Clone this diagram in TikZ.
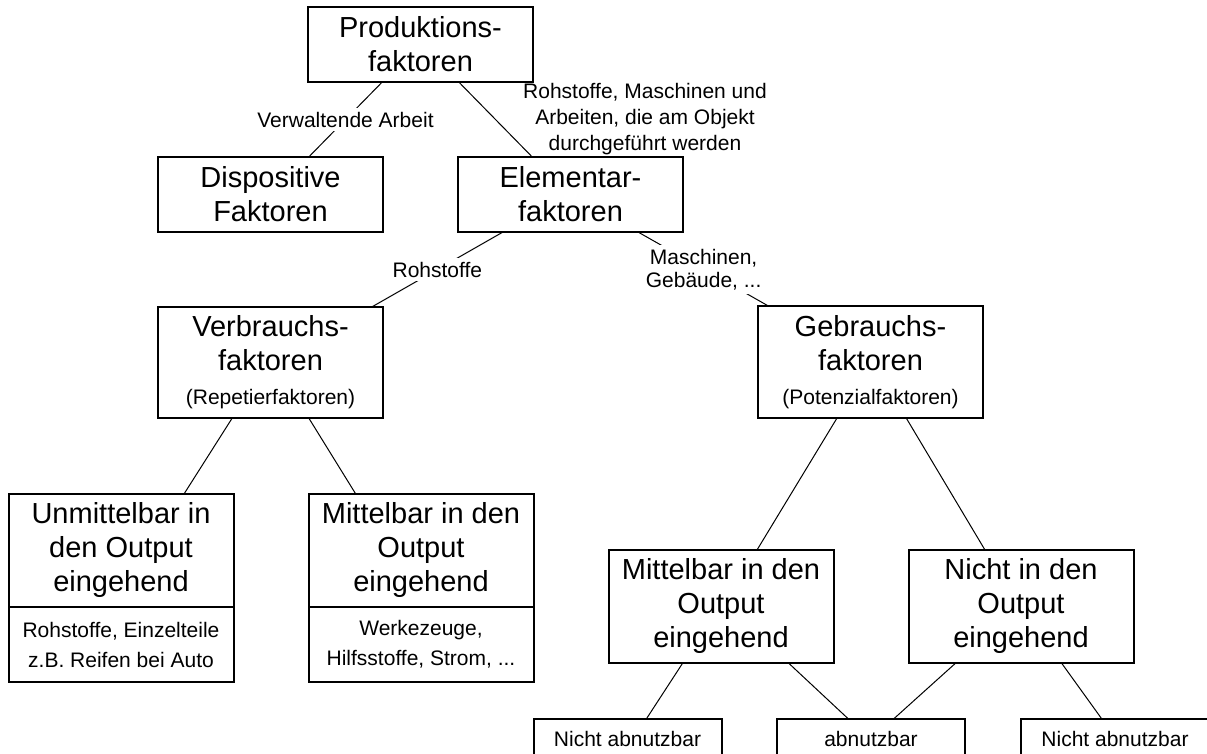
\documentclass[tikz,border=0pt]{standalone}
\usepackage{fontspec}
\setmainfont{Liberation Sans}
\usepackage{tikz}
\usetikzlibrary{positioning,calc}

\newcommand{\bigfont}{\fontsize{14.5}{17}\selectfont}
\newcommand{\smallfont}{\fontsize{10.5}{13}\selectfont}

\begin{document}
\begin{tikzpicture}[x=0.5pt, y=-0.5pt,
    faktor/.style={rectangle, draw=black, line width=1pt, minimum width=112.5pt,
        minimum height=37.5pt, inner sep=0pt, outer sep=0pt, align=center, font=\bigfont},
    detail/.style={rectangle, draw=black, line width=1pt, minimum width=112.5pt,
        minimum height=37.5pt, inner sep=0pt, outer sep=0pt, align=center,
        font=\fontsize{10.5}{15}\selectfont},
    endbox/.style={rectangle, draw=black, line width=1pt, minimum width=94pt,
        minimum height=20pt, inner sep=0pt, outer sep=0pt, font=\smallfont},
    link/.style={draw=black, line width=0.5pt},
    linklabel/.style={fill=white, inner sep=2pt, align=center, font=\smallfont}
]
    \useasboundingbox (0,0) rectangle (1207,754);

    % top levels
    \node[faktor] (prod) at (420.5,44.5) {Produktions-\\faktoren};
    \node[faktor] (disp) at (270.5,194.5) {Dispositive\\Faktoren};
    \node[faktor] (elem) at (570.5,194.5) {Elementar-\\faktoren};
    \node[faktor, minimum height=55.5pt] (verb) at (270.5,362.5)
        {Verbrauchs-\\faktoren\\{\smallfont(Repetierfaktoren)}};
    \node[faktor, minimum height=56pt] (gebr) at (870.5,362.5)
        {Gebrauchs-\\faktoren\\{\smallfont(Potenzialfaktoren)}};

    % Verbrauchsfaktoren: boxes with an example part below
    \node[faktor, minimum height=56.5pt] (unm) at (121,550.5) {Unmittelbar in\\den Output\\eingehend};
    \node[detail, below=0pt of unm] (unmx) {Rohstoffe, Einzelteile\\z.B. Reifen bei Auto};
    \node[faktor, minimum height=56.5pt] (mitl) at (421,550.5) {Mittelbar in den\\Output\\eingehend};
    \node[detail, below=0pt of mitl] (mitlx) {Werkezeuge,\\Hilfsstoffe, Strom, ...};

    % Gebrauchsfaktoren
    \node[faktor, minimum height=56.5pt] (mitr) at (721,606.5) {Mittelbar in den\\Output\\eingehend};
    \node[faktor, minimum height=56.5pt] (nicht) at (1021,606.5) {Nicht in den\\Output\\eingehend};

    % bottom row, cut off by the page edge
    \node[endbox] (na1) at (627.5,739) {Nicht abnutzbar};
    \node[endbox] (abn) at (871,739) {abnutzbar};
    \node[endbox] (na2) at (1115,739) {Nicht abnutzbar};

    \node[font=\smallfont, align=center] (elemnote) at (645,119)
        {Rohstoffe, Maschinen und\\Arbeiten, die am Objekt\\durchgeführt werden};

    % connectors leave and enter the boxes at fixed fractions of their edges
    \draw[link] ($(prod.south west)!.33!(prod.south east)$) --
        node[linklabel] (lverw) {Verwaltende Arbeit}
        ($(disp.north west)!.67!(disp.north east)$);
    \draw[link] ($(prod.south west)!.67!(prod.south east)$) -- ($(elem.north west)!.33!(elem.north east)$);
    \draw[link] ($(elem.south west)!.2!(elem.south east)$) --
        node[linklabel] (lroh) {Rohstoffe}
        ($(verb.north west)!.95!(verb.north east)$);
    \draw[link] ($(elem.south west)!.8!(elem.south east)$) --
        node[linklabel, font=\fontsize{10.5}{11.5}\selectfont] (lmasch) {Maschinen,\\Gebäude, ...}
        ($(gebr.north west)!.05!(gebr.north east)$);

    \draw[link] ($(verb.south west)!.33!(verb.south east)$) -- ($(unm.north west)!.78!(unm.north east)$);
    \draw[link] ($(verb.south west)!.67!(verb.south east)$) -- ($(mitl.north west)!.21!(mitl.north east)$);
    \draw[link] ($(gebr.south west)!.35!(gebr.south east)$) -- ($(mitr.north west)!.66!(mitr.north east)$);
    \draw[link] ($(gebr.south west)!.66!(gebr.south east)$) -- ($(nicht.north west)!.34!(nicht.north east)$);

    \draw[link] ($(mitr.south west)!.33!(mitr.south east)$) -- ($(na1.north west)!.6!(na1.north east)$);
    \draw[link] ($(mitr.south west)!.8!(mitr.south east)$) -- ($(abn.north west)!.38!(abn.north east)$);
    \draw[link] ($(nicht.south west)!.21!(nicht.south east)$) -- ($(abn.north west)!.62!(abn.north east)$);
    \draw[link] ($(nicht.south west)!.68!(nicht.south east)$) -- ($(na2.north west)!.43!(na2.north east)$);
\end{tikzpicture}
\end{document}
